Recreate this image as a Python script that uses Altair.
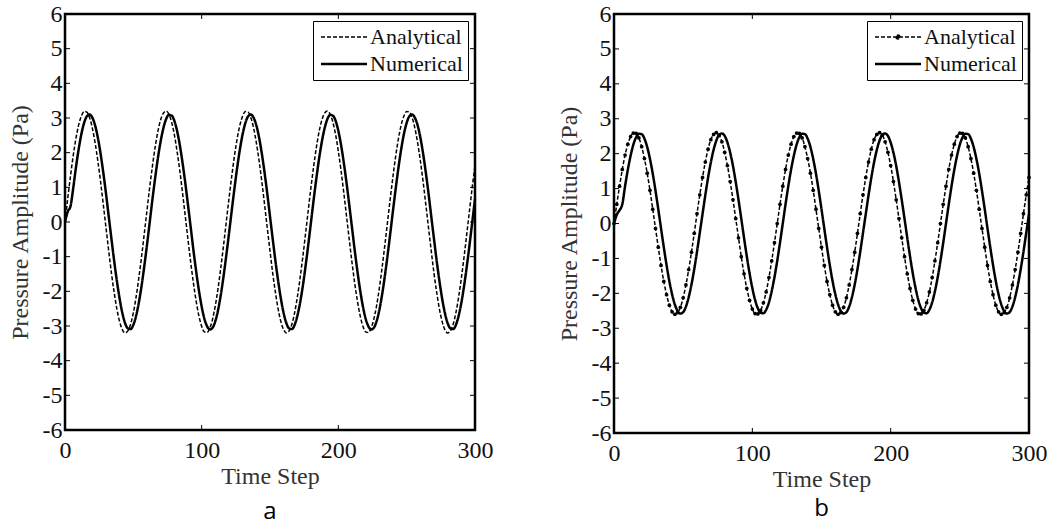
import altair as alt
import pandas as pd

# time steps (sampled every 2 steps)
T = list(range(0, 301, 2))

ANA_A = [0, 0.68, 1.32, 1.91, 2.41, 2.80, 3.06, 3.19, 3.17, 3.01, 2.71, 2.29, 1.77, 1.17, 0.51, -0.17, -0.84, -1.48, -2.04, -2.52, -2.88, -3.11, -3.20, -3.14, -2.95, -2.62, -2.17, -1.62, -1.01, -0.34,
         0.34, 1.01, 1.62, 2.17, 2.62, 2.95, 3.14, 3.20, 3.11, 2.88, 2.52, 2.04, 1.48, 0.84, 0.17, -0.51, -1.17, -1.77, -2.29, -2.71, -3.01, -3.17, -3.19, -3.06, -2.80, -2.41, -1.91, -1.32, -0.68,
         0, 0.68, 1.32, 1.91, 2.41, 2.80, 3.06, 3.19, 3.17, 3.01, 2.71, 2.29, 1.77, 1.17, 0.51, -0.17, -0.84, -1.48, -2.04, -2.52, -2.88, -3.11, -3.20, -3.14, -2.95, -2.62, -2.17, -1.62, -1.01, -0.34,
         0.34, 1.01, 1.62, 2.17, 2.62, 2.95, 3.14, 3.20, 3.11, 2.88, 2.52, 2.04, 1.48, 0.84, 0.17, -0.51, -1.17, -1.77, -2.29, -2.71, -3.01, -3.17, -3.19, -3.06, -2.80, -2.41, -1.91, -1.32, -0.68,
         0, 0.68, 1.32, 1.91, 2.41, 2.80, 3.06, 3.19, 3.17, 3.01, 2.71, 2.29, 1.77, 1.17, 0.51, -0.17, -0.84, -1.48, -2.04, -2.52, -2.88, -3.11, -3.20, -3.14, -2.95, -2.62, -2.17, -1.62, -1.01, -0.34,
         0.34, 1.01, 1.62]

NUM_A = [0, 0.30,
         0.45, 0.97, 1.57, 2.10, 2.54, 2.86, 3.05, 3.10, 3.01, 2.79, 2.44, 1.98, 1.43, 0.82, 0.16, -0.49, -1.13, -1.71, -2.22, -2.63, -2.92, -3.07, -3.09, -2.97, -2.71, -2.33, -1.85, -1.28, -0.66,
         0, 0.66, 1.28, 1.85, 2.33, 2.71, 2.97, 3.09, 3.07, 2.92, 2.63, 2.22, 1.71, 1.13, 0.49, -0.16, -0.82, -1.43, -1.98, -2.44, -2.79, -3.01, -3.10, -3.05, -2.86, -2.54, -2.10, -1.57, -0.97, -0.33,
         0.33, 0.97, 1.57, 2.10, 2.54, 2.86, 3.05, 3.10, 3.01, 2.79, 2.44, 1.98, 1.43, 0.82, 0.16, -0.49, -1.13, -1.71, -2.22, -2.63, -2.92, -3.07, -3.09, -2.97, -2.71, -2.33, -1.85, -1.28, -0.66,
         0, 0.66, 1.28, 1.85, 2.33, 2.71, 2.97, 3.09, 3.07, 2.92, 2.63, 2.22, 1.71, 1.13, 0.49, -0.16, -0.82, -1.43, -1.98, -2.44, -2.79, -3.01, -3.10, -3.05, -2.86, -2.54, -2.10, -1.57, -0.97, -0.33,
         0.33, 0.97, 1.57, 2.10, 2.54, 2.86, 3.05, 3.10, 3.01, 2.79, 2.44, 1.98, 1.43, 0.82, 0.16, -0.49, -1.13, -1.71, -2.22, -2.63, -2.92, -3.07, -3.09, -2.97, -2.71, -2.33, -1.85, -1.28, -0.66,
         0, 0.66]

ANA_B = [0, 0.55, 1.07, 1.55, 1.96, 2.27, 2.49, 2.59, 2.58, 2.45, 2.20, 1.86, 1.44, 0.95, 0.41, -0.14, -0.68, -1.20, -1.66, -2.04, -2.34, -2.53, -2.60, -2.55, -2.40, -2.13, -1.76, -1.32, -0.82, -0.28,
         0.28, 0.82, 1.32, 1.76, 2.13, 2.40, 2.55, 2.60, 2.53, 2.34, 2.04, 1.66, 1.20, 0.68, 0.14, -0.41, -0.95, -1.44, -1.86, -2.20, -2.45, -2.58, -2.59, -2.49, -2.27, -1.96, -1.55, -1.07, -0.55,
         0, 0.55, 1.07, 1.55, 1.96, 2.27, 2.49, 2.59, 2.58, 2.45, 2.20, 1.86, 1.44, 0.95, 0.41, -0.14, -0.68, -1.20, -1.66, -2.04, -2.34, -2.53, -2.60, -2.55, -2.40, -2.13, -1.76, -1.32, -0.82, -0.28,
         0.28, 0.82, 1.32, 1.76, 2.13, 2.40, 2.55, 2.60, 2.53, 2.34, 2.04, 1.66, 1.20, 0.68, 0.14, -0.41, -0.95, -1.44, -1.86, -2.20, -2.45, -2.58, -2.59, -2.49, -2.27, -1.96, -1.55, -1.07, -0.55,
         0, 0.55, 1.07, 1.55, 1.96, 2.27, 2.49, 2.59, 2.58, 2.45, 2.20, 1.86, 1.44, 0.95, 0.41, -0.14, -0.68, -1.20, -1.66, -2.04, -2.34, -2.53, -2.60, -2.55, -2.40, -2.13, -1.76, -1.32, -0.82, -0.28,
         0.28, 0.82, 1.32]

NUM_B = [0, 0.25, 0.38,
         0.55, 1.07, 1.54, 1.94, 2.26, 2.47, 2.57, 2.56, 2.43, 2.19, 1.85, 1.43, 0.94, 0.41, -0.14, -0.68, -1.19, -1.65, -2.03, -2.32, -2.51, -2.58, -2.54, -2.38, -2.11, -1.75, -1.31, -0.81, -0.27,
         0.27, 0.81, 1.31, 1.75, 2.11, 2.38, 2.54, 2.58, 2.51, 2.32, 2.03, 1.65, 1.19, 0.68, 0.14, -0.41, -0.94, -1.43, -1.85, -2.19, -2.43, -2.56, -2.57, -2.47, -2.26, -1.94, -1.54, -1.07, -0.55,
         0, 0.55, 1.07, 1.54, 1.94, 2.26, 2.47, 2.57, 2.56, 2.43, 2.19, 1.85, 1.43, 0.94, 0.41, -0.14, -0.68, -1.19, -1.65, -2.03, -2.32, -2.51, -2.58, -2.54, -2.38, -2.11, -1.75, -1.31, -0.81, -0.27,
         0.27, 0.81, 1.31, 1.75, 2.11, 2.38, 2.54, 2.58, 2.51, 2.32, 2.03, 1.65, 1.19, 0.68, 0.14, -0.41, -0.94, -1.43, -1.85, -2.19, -2.43, -2.56, -2.57, -2.47, -2.26, -1.94, -1.54, -1.07, -0.55,
         0, 0.55, 1.07, 1.54, 1.94, 2.26, 2.47, 2.57, 2.56, 2.43, 2.19, 1.85, 1.43, 0.94, 0.41, -0.14, -0.68, -1.19, -1.65, -2.03, -2.32, -2.51, -2.58, -2.54, -2.38, -2.11, -1.75, -1.31, -0.81, -0.27,
         0.27]

X_TICKS = [0, 100, 200, 300]
Y_TICKS = [-6, -5, -4, -3, -2, -1, 0, 1, 2, 3, 4, 5, 6]
SERIES = ["Analytical", "Numerical"]

SERIF = "Liberation Serif, Times New Roman, serif"


def panel(ana, num, w, h, letter, dots, letter_offset):
    df_a = pd.DataFrame({"t": T, "v": ana, "series": "Analytical"})
    df_n = pd.DataFrame({"t": T, "v": num, "series": "Numerical"})
    xs = alt.Scale(domain=[0, 300], nice=False, zero=False)
    ys = alt.Scale(domain=[-6, 6], nice=False, zero=False)
    x = alt.X("t:Q", scale=xs,
              axis=alt.Axis(values=X_TICKS, title="Time Step", labelExpr="'' + datum.value",
                            labelFont=SERIF, titleFont=SERIF))
    y = alt.Y("v:Q", scale=ys,
              axis=alt.Axis(values=Y_TICKS, title="Pressure Amplitude (Pa)", labelExpr="'' + datum.value",
                            labelFont=SERIF, titleFont=SERIF))

    if dots:
        shape_expr = ("datum.value == 'Analytical' ? "
                      "'M-2,0H2M-0.17,0A0.17,0.17,0,1,0,0.17,0A0.17,0.17,0,1,0,-0.17,0' : 'M-2,0H2'")
        fill_expr = "datum.value == 'Analytical' ? 'black' : 'transparent'"
    else:
        shape_expr = "'M-2,0H2'"
        fill_expr = "'transparent'"

    legend = alt.Legend(
        title=None, orient="top-right", offset=7, padding=5, rowPadding=5,
        strokeColor="black", fillColor="white",
        labelFont=SERIF, labelFontSize=22, labelColor="#111", labelLimit=300,
        symbolType={"expr": shape_expr}, symbolSize=529, symbolStrokeColor="black",
        symbolFillColor={"expr": fill_expr},
        symbolStrokeWidth={"expr": "datum.value == 'Numerical' ? 2.5 : 1.4"},
        symbolOffset=15, labelOffset=15,
    )
    dash = alt.StrokeDash("series:N",
                          scale=alt.Scale(domain=SERIES, range=[[4, 2], [1, 0]]),
                          legend=legend)

    num_line = alt.Chart(df_n).mark_line(color="black", strokeWidth=2.5, interpolate="monotone").encode(
        x=x, y=y, strokeDash=dash)
    ana_line = alt.Chart(df_a).mark_line(color="black", strokeWidth=1.5, interpolate="monotone").encode(
        x=x, y=y, strokeDash=dash)
    layers = [num_line, ana_line]
    if dots:
        layers.append(alt.Chart(df_a).mark_point(filled=True, size=14, color="black", opacity=1).encode(
            x=x, y=y))

    ydf = pd.DataFrame({"v": Y_TICKS})
    xdf = pd.DataFrame({"t": X_TICKS})
    layers.append(alt.Chart(ydf).mark_rule(color="black", strokeWidth=1).encode(
        y=y, x=alt.value(0), x2=alt.value(5)))
    layers.append(alt.Chart(ydf).mark_rule(color="black", strokeWidth=1).encode(
        y=y, x=alt.value(w - 5), x2=alt.value(w)))
    layers.append(alt.Chart(xdf).mark_rule(color="black", strokeWidth=1).encode(
        x=x, y=alt.value(0), y2=alt.value(5)))
    layers.append(alt.Chart(xdf).mark_rule(color="black", strokeWidth=1).encode(
        x=x, y=alt.value(h - 5), y2=alt.value(h)))

    return alt.layer(*layers).properties(
        width=w, height=h,
        title=alt.TitleParams(letter, orient="bottom", anchor="middle", font="Open Sans",
                              fontSize=24, fontWeight="normal", color="black", offset=letter_offset),
    )


pa = panel(ANA_A, NUM_A, 410, 416, "a", False, 12)
pb = panel(ANA_B, NUM_B, 415, 419, "b", True, 6)

chart = alt.hconcat(pa, pb, spacing=139, bounds="flush").resolve_scale(
    strokeDash="independent", x="independent", y="independent"
).resolve_legend(
    strokeDash="independent"
).properties(
    padding={"left": 6, "top": 0, "right": 0, "bottom": 0},
    background="white",
).configure_view(
    stroke="black", strokeWidth=2.5
).configure_axis(
    grid=False, domain=False, ticks=False,
    labelFont=SERIF, labelFontSize=24, labelColor="#111",
    titleFont=SERIF, titleFontSize=24, titleFontWeight="normal", titleColor="#333",
    labelFlush=False, labelOverlap=False,
).configure_axisX(
    labelPadding=8, titlePadding=2
).configure_axisY(
    labelPadding=3, titlePadding=10
)

chart.save("out.html", embed_options={"renderer": "svg", "actions": False})
